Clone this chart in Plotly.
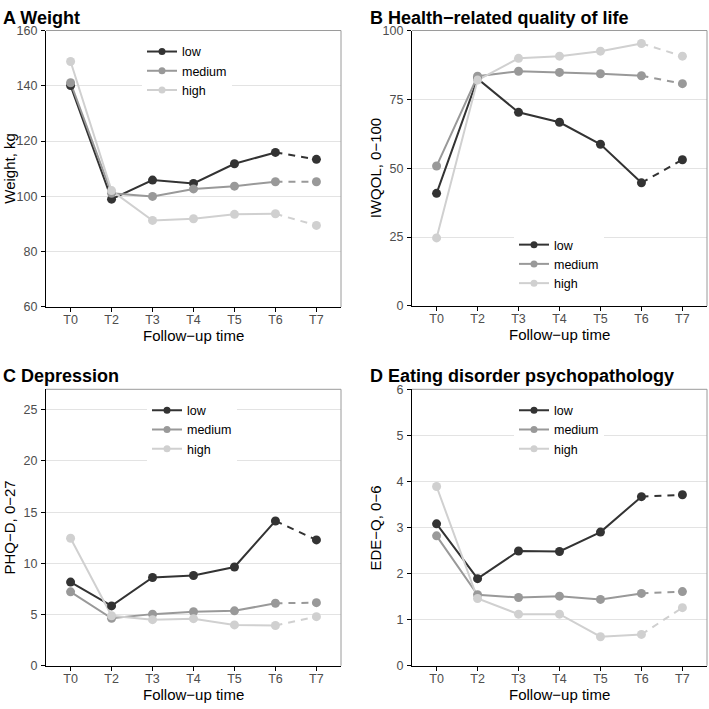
import plotly.graph_objects as go

W, H = 709, 709

times = ["T0", "T2", "T3", "T4", "T5", "T6", "T7"]
groups = ["low", "medium", "high"]
colors = {"low": "#333333", "medium": "#999999", "high": "#d0d0d0"}

weight_low = [140.1, 99.0, 105.9, 104.7, 111.8, 115.9, 113.4]
weight_medium = [141.1, 101.1, 100.0, 102.7, 103.7, 105.3, 105.3]
weight_high = [148.8, 102.1, 91.3, 91.9, 93.5, 93.7, 89.5]

iwqol_low = [40.9, 82.5, 70.3, 66.7, 58.7, 44.7, 53.1]
iwqol_medium = [50.8, 83.4, 85.2, 84.8, 84.3, 83.6, 80.7]
iwqol_high = [24.7, 82.0, 89.9, 90.7, 92.5, 95.3, 90.7]

phq_low = [8.17, 5.84, 8.62, 8.81, 9.64, 14.14, 12.29]
phq_medium = [7.22, 4.63, 5.04, 5.27, 5.36, 6.10, 6.16]
phq_high = [12.45, 4.88, 4.50, 4.60, 3.99, 3.93, 4.79]

edeq_low = [3.08, 1.89, 2.49, 2.48, 2.90, 3.67, 3.71]
edeq_medium = [2.82, 1.54, 1.48, 1.51, 1.44, 1.57, 1.61]
edeq_high = [3.89, 1.46, 1.12, 1.12, 0.63, 0.68, 1.26]

titles = ["A Weight", "B Health\u2212related quality of life", "C Depression",
          "D Eating disorder psychopathology"]
ytitles = ["Weight, kg", "IWQOL, 0\u2212100", "PHQ\u2212D, 0\u221227", "EDE\u2212Q, 0\u22126"]
yranges = [[60, 160], [0, 100], [0, 27], [0, 6]]
yticks = [[60, 80, 100, 120, 140, 160], [0, 25, 50, 75, 100],
          [0, 5, 10, 15, 20, 25], [0, 1, 2, 3, 4, 5, 6]]
xlabel = "Follow\u2212up time"

panels = [
    {"low": weight_low, "medium": weight_medium, "high": weight_high},
    {"low": iwqol_low, "medium": iwqol_medium, "high": iwqol_high},
    {"low": phq_low, "medium": phq_medium, "high": phq_high},
    {"low": edeq_low, "medium": edeq_medium, "high": edeq_high},
]

# pixel boxes: (left, top, right, bottom)
boxes = [(46, 24, 341, 306), (412, 24, 707, 305), (46, 390, 341, 672), (412, 390, 707, 672)]
# legend top-left pixel positions
legpos = [(142, 30.5), (514, 227.5), (147, 396.5), (514, 396.5)]
# title positions (left px, top px)
titlepos = [(1, -1), (368, -1), (1, 364), (368, 364)]
ytitle_x = [10, 375, 10, 376]

FONT = "Liberation Sans, Arial, sans-serif"

fig = go.Figure()
layout = dict(width=W, height=H, margin=dict(l=0, r=0, t=0, b=0),
              paper_bgcolor="white", plot_bgcolor="white",
              font=dict(family=FONT, color="#000000"), showlegend=True)
annotations = []
shapes = []

for i, (data, box) in enumerate(zip(panels, boxes)):
    n = i + 1
    xa = "x" if n == 1 else f"x{n}"
    ya = "y" if n == 1 else f"y{n}"
    leg = "legend" if n == 1 else f"legend{n}"
    l, t, r, b = box
    xdom = [l / W, r / W]
    ydom = [1 - b / H, 1 - t / H]
    axkey_x = "xaxis" if n == 1 else f"xaxis{n}"
    axkey_y = "yaxis" if n == 1 else f"yaxis{n}"
    layout[axkey_x] = dict(domain=xdom, anchor=ya, type="category",
                           categoryorder="array", categoryarray=times,
                           range=[-0.6, 6.6], showgrid=False, zeroline=False,
                           showline=True, linecolor="#000000", linewidth=1.2,
                           ticks="outside", ticklen=4, tickcolor="#000000", tickwidth=1,
                           tickfont=dict(size=12.5, color="#4d4d4d", family=FONT),
                           ticklabelstandoff=-3)
    layout[axkey_y] = dict(domain=ydom, anchor=xa, range=yranges[i],
                           tickvals=yticks[i], showgrid=True, gridcolor="#e3e3e3",
                           gridwidth=1, zeroline=False,
                           showline=True, linecolor="#000000", linewidth=1.2,
                           ticks="outside", ticklen=4, tickcolor="#000000", tickwidth=1,
                           tickfont=dict(size=12.5, color="#4d4d4d", family=FONT),
                           ticklabelstandoff=1)
    # top/right border
    shapes.append(dict(type="line", xref=f"{xa} domain", yref=f"{ya} domain",
                       x0=0, x1=1, y0=1, y1=1, line=dict(color="#9a9a9a", width=1)))
    shapes.append(dict(type="line", xref=f"{xa} domain", yref=f"{ya} domain",
                       x0=1, x1=1, y0=0, y1=1, line=dict(color="#9a9a9a", width=1)))

    # lines first
    for g in groups:
        vals = data[g]
        fig.add_trace(go.Scatter(x=times[:6], y=vals[:6], mode="lines",
                                 line=dict(color=colors[g], width=2),
                                 xaxis=xa, yaxis=ya, showlegend=False, hoverinfo="skip"))
        fig.add_trace(go.Scatter(x=times[5:], y=vals[5:], mode="lines",
                                 line=dict(color=colors[g], width=2, dash="7px,6px"),
                                 xaxis=xa, yaxis=ya, showlegend=False, hoverinfo="skip"))
    # points
    for g in groups:
        vals = data[g]
        fig.add_trace(go.Scatter(x=times, y=vals, mode="markers",
                                 marker=dict(color=colors[g], size=9),
                                 xaxis=xa, yaxis=ya, showlegend=False))
    # legend entries
    for g in groups:
        fig.add_trace(go.Scatter(x=[None], y=[None], mode="lines+markers", name=g,
                                 line=dict(color=colors[g], width=2),
                                 marker=dict(color=colors[g], size=7),
                                 xaxis=xa, yaxis=ya, showlegend=True, legend=leg))
    lx, ly = legpos[i]
    layout[leg] = dict(x=lx / W, y=1 - ly / H, xanchor="left", yanchor="top",
                       xref="paper", yref="paper", bgcolor="white",
                       font=dict(size=12.5, color="#000000", family=FONT),
                       itemwidth=30, tracegroupgap=0, itemclick=False)

    # panel title
    tx, ty = titlepos[i]
    annotations.append(dict(text=f"<b>{titles[i]}</b>", xref="paper", yref="paper",
                            x=tx / W, y=1 - ty / H, xanchor="left", yanchor="top",
                            showarrow=False, font=dict(size=18, color="#000000", family=FONT)))
    # x title
    annotations.append(dict(text=xlabel, xref="paper", yref="paper",
                            x=(l + r) / 2 / W, y=1 - (b + 29) / H, xanchor="center",
                            yanchor="middle", showarrow=False,
                            font=dict(size=15, color="#000000", family=FONT)))
    # y title
    annotations.append(dict(text=ytitles[i], xref="paper", yref="paper",
                            x=ytitle_x[i] / W, y=1 - (t + b) / 2 / H, xanchor="center",
                            yanchor="middle", textangle=-90, showarrow=False,
                            font=dict(size=15, color="#000000", family=FONT)))

layout["annotations"] = annotations
layout["shapes"] = shapes
fig.update_layout(**layout)
fig.write_html("out.html")
